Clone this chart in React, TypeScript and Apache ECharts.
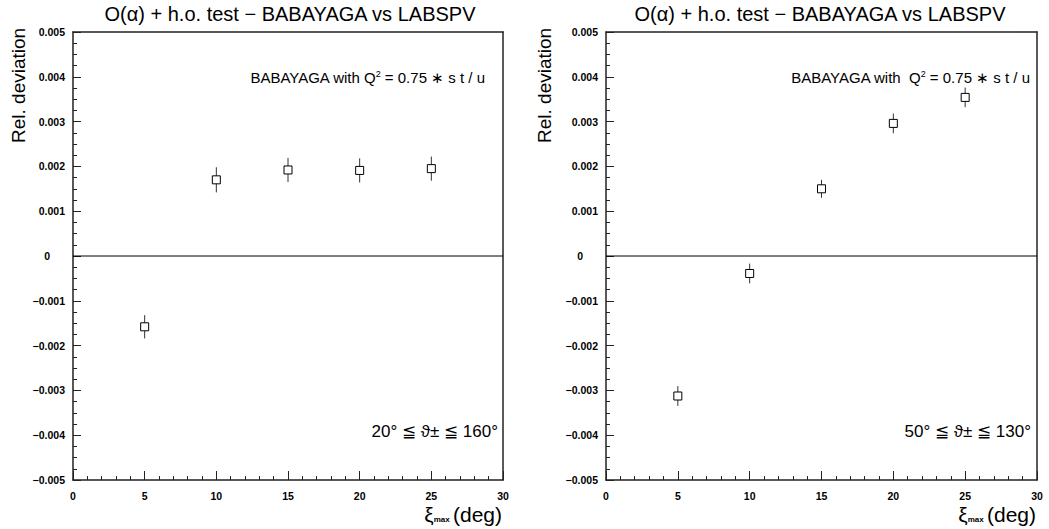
import React, { useEffect, useRef } from "react";
import * as echarts from "echarts";

const xValues = [5, 10, 15, 20, 25];
const leftY = [-0.00158, 0.0017, 0.00192, 0.00191, 0.00195];
const leftErr = [0.00026, 0.00028, 0.00027, 0.00027, 0.00027];
const rightY = [-0.003125, -0.00039, 0.0015, 0.00296, 0.00354];
const rightErr = [0.00022, 0.00022, 0.0002, 0.00022, 0.00022];
const zeroLine = [
  [0, 0],
  [30, 0],
];

const titleText = "O(α) + h.o. test − BABAYAGA vs LABSPV";
const yTitle = "Rel. deviation";
const leftRange = "20° ≦ ϑ± ≦ 160°";
const rightRange = "50° ≦ ϑ± ≦ 130°";

const FONT = "'Liberation Sans', Arial, Helvetica, sans-serif";

function fmtY(v: number) {
  if (Math.abs(v) < 1e-9) return "{z|0}";
  const s = v.toFixed(3);
  return s.replace("-", "\u2212");
}

function makeAxes(gi: number) {
  const xMain = {
    type: "value",
    gridIndex: gi,
    min: 0,
    max: 30,
    interval: 5,
    position: "bottom",
    axisLine: { show: true, onZero: false, lineStyle: { color: "#222", width: 1.5 } },
    axisTick: { show: true, inside: true, length: 9, lineStyle: { color: "#222", width: 1 } },
    minorTick: { show: true, splitNumber: 5, length: 4, lineStyle: { color: "#222", width: 1 } },
    axisLabel: { color: "#000", fontFamily: FONT, fontWeight: "bold", fontSize: 10.5, margin: 10 },
    splitLine: { show: false },
    minorSplitLine: { show: false },
  };
  const xTop = {
    type: "value",
    gridIndex: gi,
    min: 0,
    max: 30,
    position: "top",
    axisLine: { show: true, onZero: false, lineStyle: { color: "#222", width: 1.5 } },
    axisTick: { show: false },
    axisLabel: { show: false },
    splitLine: { show: false },
  };
  const yMain = {
    type: "value",
    gridIndex: gi,
    min: -0.005,
    max: 0.005,
    interval: 0.001,
    position: "left",
    axisLine: { show: true, onZero: false, lineStyle: { color: "#222", width: 1.5 } },
    axisTick: { show: true, inside: true, length: 8, lineStyle: { color: "#222", width: 1 } },
    minorTick: { show: true, splitNumber: 4, length: 4, lineStyle: { color: "#222", width: 1 } },
    axisLabel: {
      color: "#000",
      fontFamily: FONT,
      fontWeight: "bold",
      fontSize: 10.5,
      margin: 8,
      formatter: fmtY,
      rich: { z: { padding: [0, 15, 0, 0], fontWeight: "bold", fontSize: 10.5, fontFamily: FONT, color: "#000" } },
    },
    splitLine: { show: false },
    minorSplitLine: { show: false },
  };
  const yRight = {
    type: "value",
    gridIndex: gi,
    min: -0.005,
    max: 0.005,
    position: "right",
    axisLine: { show: true, onZero: false, lineStyle: { color: "#222", width: 1.5 } },
    axisTick: { show: false },
    axisLabel: { show: false },
    splitLine: { show: false },
  };
  return { xs: [xMain, xTop], ys: [yMain, yRight] };
}

function renderErr(params: any, api: any) {
  const x = api.value(0);
  const y = api.value(1);
  const e = api.value(2);
  const c = api.coord([x, y]);
  const t = api.coord([x, y + e]);
  const b = api.coord([x, y - e]);
  const h = 4;
  return {
    type: "group",
    children: [
      {
        type: "line",
        shape: { x1: c[0], y1: t[1], x2: c[0], y2: b[1] },
        style: { stroke: "#333", lineWidth: 1 },
      },
      {
        type: "rect",
        shape: { x: c[0] - h, y: c[1] - h, width: 2 * h, height: 2 * h },
        style: { fill: "#fff", stroke: "#000", lineWidth: 1 },
      },
    ],
  };
}

function panelGraphics(
  cx: number,
  yTitleX: number,
  annRight: number,
  annText: string,
  rangeRight: number,
  rangeText: string,
  xTitleRight: number
) {
  return [
    {
      type: "text",
      x: cx,
      y: 14,
      style: {
        text: titleText,
        font: `20px ${FONT}`,
        fill: "#000",
        align: "center",
        verticalAlign: "middle",
      },
    },
    {
      type: "text",
      x: yTitleX,
      y: 143,
      rotation: Math.PI / 2,
      style: {
        text: yTitle,
        font: `19px ${FONT}`,
        fill: "#000",
        align: "left",
        verticalAlign: "middle",
      },
    },
    {
      type: "text",
      x: annRight,
      y: 77,
      style: {
        text: annText,
        fontFamily: FONT,
        fontSize: 15,
        fill: "#000",
        align: "right",
        verticalAlign: "middle",
        rich: {
          sup: { fontFamily: FONT, fontSize: 9, fill: "#000", verticalAlign: "top", padding: [0, 0, 7, 0] },
        },
      },
    },
    {
      type: "text",
      x: rangeRight,
      y: 431,
      style: {
        text: rangeText,
        font: `17px ${FONT}`,
        fill: "#000",
        align: "right",
        verticalAlign: "middle",
      },
    },
    {
      type: "text",
      x: xTitleRight,
      y: 514,
      style: {
        text: "{a|ξ}{s|max} {a|(deg)}",
        align: "right",
        verticalAlign: "middle",
        rich: {
          a: { fontFamily: FONT, fontSize: 21, fill: "#000" },
          s: { fontFamily: FONT, fontSize: 8, fontWeight: "bold", fill: "#000", padding: [10, 0, 0, 0] },
        },
      },
    },
  ];
}

export default function App() {
  const ref = useRef<HTMLDivElement>(null);
  useEffect(() => {
    document.body.style.margin = "0";
    if (!ref.current) return;
    const chart = echarts.init(ref.current, undefined, { renderer: "svg" });
    const a0 = makeAxes(0);
    const a1 = makeAxes(1);
    const leftData = xValues.map((x, i) => [x, leftY[i], leftErr[i]]);
    const rightData = xValues.map((x, i) => [x, rightY[i], rightErr[i]]);
    const option: any = {
      animation: false,
      backgroundColor: "#fff",
      grid: [
        { left: 73, top: 32, width: 430, height: 448 },
        { left: 606, top: 32, width: 431, height: 448 },
      ],
      xAxis: [...a0.xs, ...a1.xs],
      yAxis: [...a0.ys, ...a1.ys],
      series: [
        {
          type: "line",
          xAxisIndex: 0,
          yAxisIndex: 0,
          data: zeroLine,
          symbol: "none",
          lineStyle: { color: "#000", width: 1 },
          silent: true,
        },
        {
          type: "line",
          xAxisIndex: 2,
          yAxisIndex: 2,
          data: zeroLine,
          symbol: "none",
          lineStyle: { color: "#000", width: 1 },
          silent: true,
        },
        {
          type: "custom",
          xAxisIndex: 0,
          yAxisIndex: 0,
          data: leftData,
          encode: { x: 0, y: 1 },
          renderItem: renderErr,
          z: 5,
        },
        {
          type: "custom",
          xAxisIndex: 2,
          yAxisIndex: 2,
          data: rightData,
          encode: { x: 0, y: 1 },
          renderItem: renderErr,
          z: 5,
        },
      ],
      graphic: [
        ...panelGraphics(290, 18, 485, "BABAYAGA with Q{sup|2} = 0.75 ∗ s t / u", 498, leftRange, 502),
        ...panelGraphics(820, 544, 1030, "BABAYAGA with  Q{sup|2} = 0.75 ∗ s t / u", 1031, rightRange, 1036),
      ],
    };
    chart.setOption(option);
    return () => chart.dispose();
  }, []);
  return <div ref={ref} style={{ width: 1049, height: 529 }} />;
}
